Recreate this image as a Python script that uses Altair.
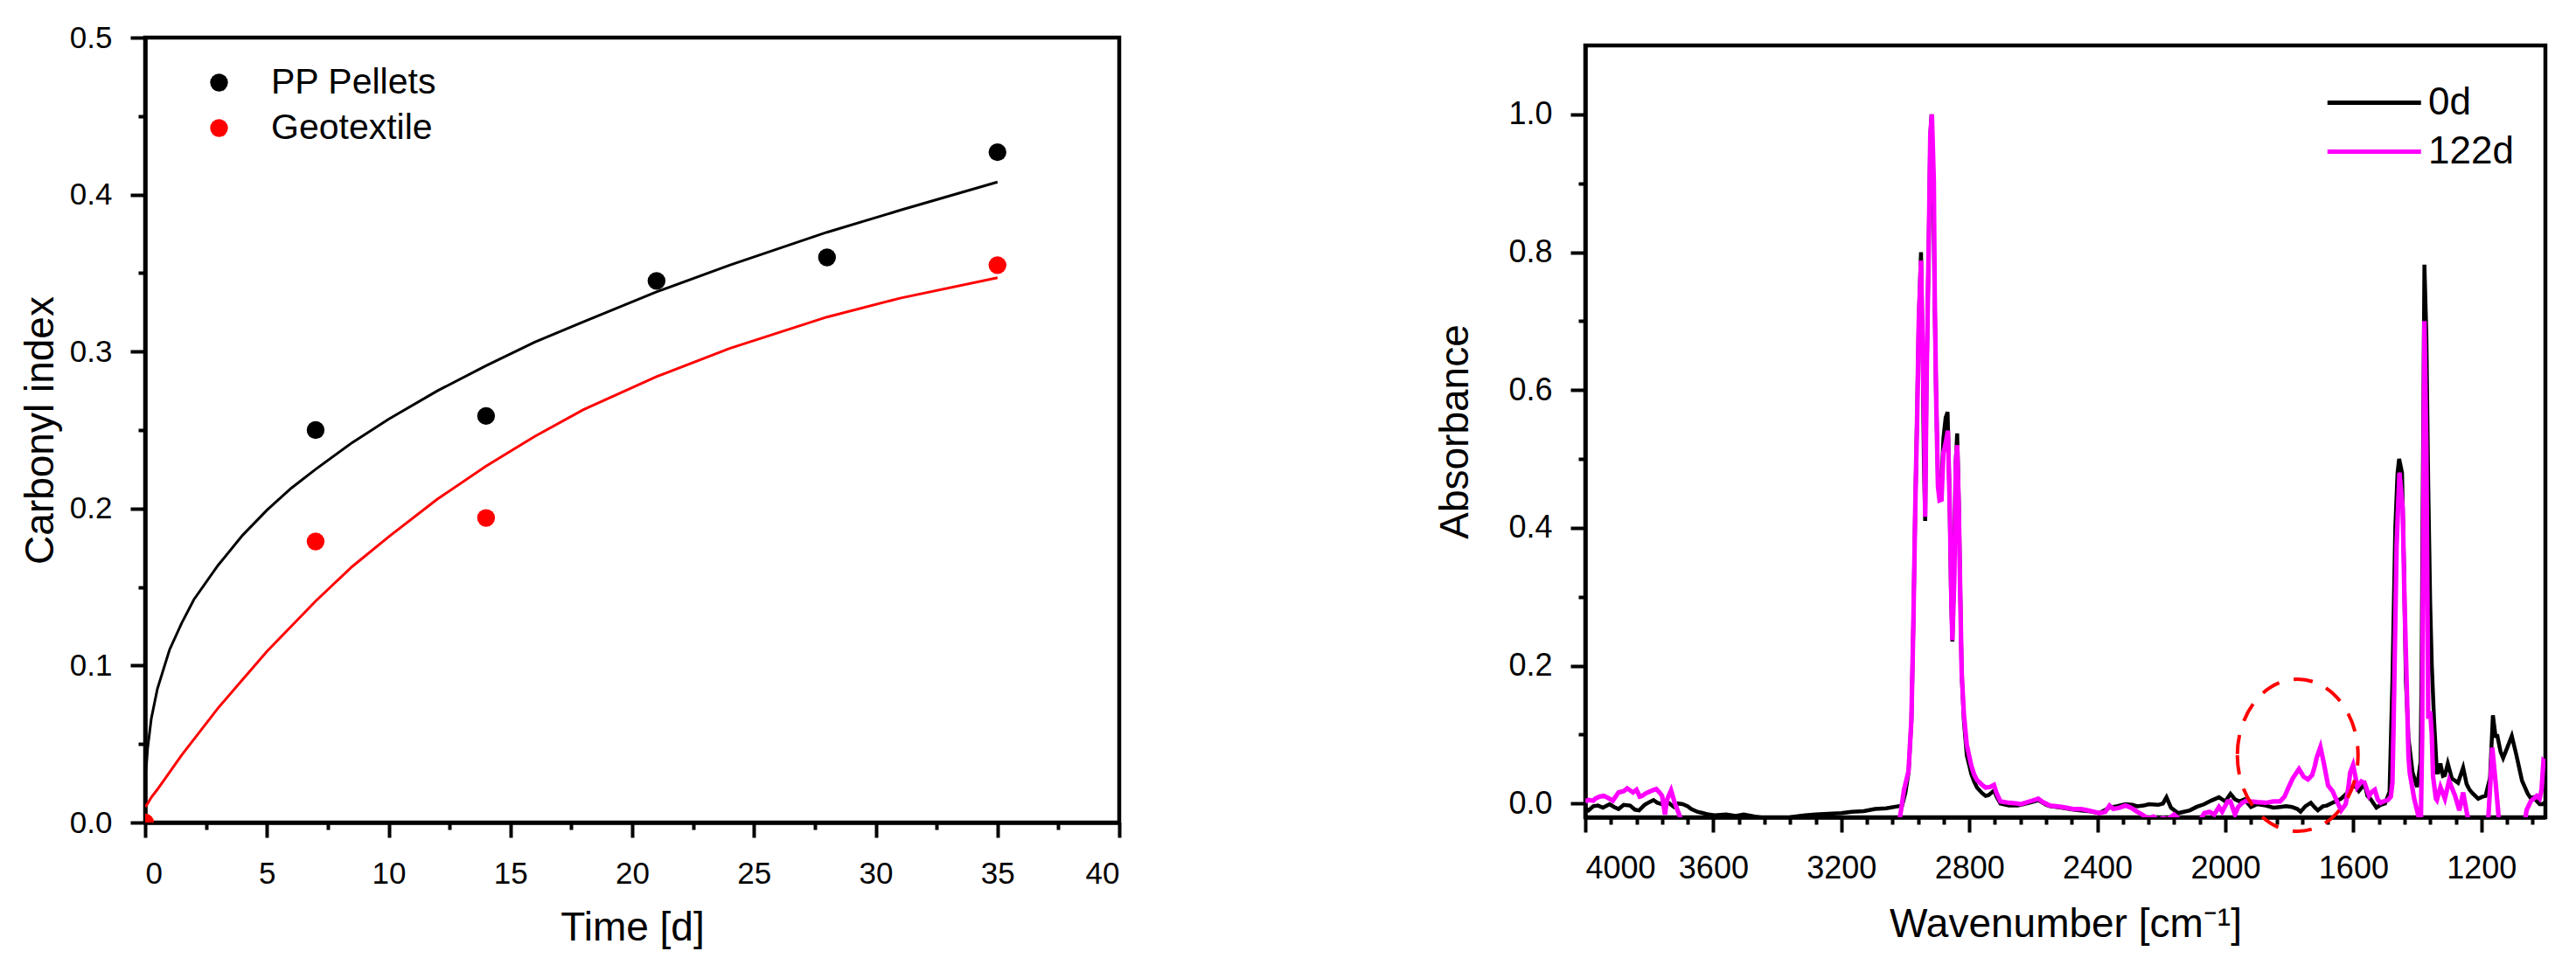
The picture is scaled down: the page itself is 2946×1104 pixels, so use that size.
import altair as alt
import pandas as pd

FONT = "Liberation Sans"

# ---------------- Left panel: carbonyl index ----------------
time_pp = [7, 14, 21, 28, 35]
ci_pp = [0.250, 0.259, 0.345, 0.360, 0.427]
time_geo = [0, 7, 14, 35]
ci_geo = [0.0, 0.179, 0.194, 0.355]

fit_t = [0, 0.05, 0.1, 0.25, 0.5, 1, 1.5, 2, 3, 4, 5, 6, 7, 8.5, 10, 12, 14, 16, 18, 21, 24, 28, 31, 35]
fit_pp = [0.030, 0.036, 0.047, 0.066, 0.085, 0.110, 0.127, 0.142, 0.164, 0.183, 0.199, 0.213,
          0.225, 0.242, 0.257, 0.275, 0.291, 0.306, 0.319, 0.338, 0.355, 0.376, 0.390, 0.408]
fit_geo = [0.010, 0.011, 0.012, 0.016, 0.021, 0.032, 0.043, 0.053, 0.073, 0.091, 0.109, 0.125,
           0.141, 0.163, 0.182, 0.206, 0.227, 0.246, 0.263, 0.284, 0.302, 0.322, 0.334, 0.347]

left_x_ticks = [0, 2.5, 5, 7.5, 10, 12.5, 15, 17.5, 20, 22.5, 25, 27.5, 30, 32.5, 35, 37.5, 40]
left_y_ticks = [0, 0.05, 0.1, 0.15, 0.2, 0.25, 0.3, 0.35, 0.4, 0.45, 0.5]

# ---------------- Right panel: FTIR spectra (wavenumber, absorbance) ----------------
spectrum_0d = [
    (4000, -0.007), (3990, -0.010), (3975, -0.004), (3960, -0.003), (3945, -0.006), (3924, -0.001),
    (3910, -0.005), (3896, -0.008), (3880, -0.002), (3860, -0.003), (3845, -0.009), (3832, -0.010),
    (3815, -0.002), (3800, 0.002), (3787, 0.005), (3775, 0.001), (3760, -0.001), (3745, 0.003),
    (3723, -0.005), (3710, 0.000), (3696, -0.001), (3680, -0.004), (3669, -0.008), (3650, -0.012),
    (3632, -0.014), (3615, -0.016), (3596, -0.017), (3560, -0.016), (3530, -0.018), (3505, -0.016),
    (3470, -0.019), (3441, -0.021), (3400, -0.021), (3360, -0.020), (3330, -0.018), (3313, -0.017),
    (3280, -0.016), (3241, -0.015), (3200, -0.014), (3168, -0.012), (3130, -0.011), (3095, -0.008),
    (3060, -0.007), (3022, -0.004), (3010, -0.003), (3000, 0.015), (2990, 0.045), (2981, 0.120),
    (2975, 0.260), (2969, 0.430), (2963, 0.570), (2958, 0.700), (2951, 0.800), (2946, 0.660),
    (2942, 0.500), (2938, 0.410), (2934, 0.600), (2930, 0.720), (2926, 0.840), (2922, 0.970),
    (2918, 1.000), (2913, 0.920), (2909, 0.750), (2904, 0.600), (2898, 0.470), (2893, 0.445),
    (2887, 0.460), (2881, 0.530), (2874, 0.560), (2868, 0.568), (2862, 0.450), (2857, 0.300),
    (2853, 0.235), (2848, 0.330), (2843, 0.490), (2838, 0.537), (2833, 0.440), (2828, 0.300),
    (2824, 0.190), (2817, 0.120), (2808, 0.070), (2800, 0.055), (2794, 0.043), (2785, 0.032),
    (2776, 0.023), (2760, 0.015), (2749, 0.011), (2740, 0.012), (2730, 0.016), (2723, 0.019),
    (2715, 0.010), (2703, 0.000), (2676, -0.003), (2650, -0.003), (2639, -0.002), (2612, 0.001),
    (2590, 0.004), (2585, 0.005), (2560, -0.002), (2548, -0.004), (2512, -0.006), (2475, -0.009),
    (2430, -0.011), (2394, -0.014), (2362, -0.006), (2340, -0.004), (2312, -0.001), (2290, -0.002),
    (2275, -0.004), (2255, -0.003), (2239, -0.001), (2210, -0.002), (2195, 0.000), (2184, 0.009),
    (2170, -0.006), (2148, -0.014), (2130, -0.012), (2111, -0.010), (2090, -0.005), (2066, -0.001),
    (2045, 0.004), (2020, 0.009), (2000, 0.003), (1984, 0.014), (1970, 0.006), (1956, 0.003),
    (1940, 0.006), (1920, -0.005), (1900, -0.001), (1874, -0.003), (1850, -0.006), (1829, -0.005),
    (1810, -0.004), (1792, -0.005), (1775, -0.008), (1765, -0.012), (1750, -0.004), (1733, 0.001),
    (1720, -0.006), (1711, -0.010), (1695, -0.004), (1683, -0.003), (1670, 0.000), (1656, 0.003),
    (1638, 0.007), (1620, 0.015), (1610, 0.020), (1597, 0.028), (1583, 0.018), (1565, 0.028),
    (1556, 0.011), (1547, 0.007), (1528, -0.006), (1515, -0.002), (1501, 0.000), (1487, 0.017),
    (1478, 0.179), (1469, 0.400), (1462, 0.480), (1457, 0.500), (1448, 0.480), (1442, 0.346),
    (1436, 0.180), (1428, 0.095), (1415, 0.045), (1401, 0.024), (1390, 0.060), (1387, 0.180),
    (1383, 0.460), (1378, 0.782), (1372, 0.680), (1366, 0.460), (1360, 0.290), (1355, 0.201),
    (1348, 0.123), (1339, 0.045), (1335, 0.045), (1328, 0.058), (1320, 0.040), (1314, 0.041),
    (1305, 0.058), (1292, 0.036), (1282, 0.033), (1273, 0.030), (1257, 0.052), (1246, 0.028),
    (1237, 0.020), (1228, 0.015), (1210, 0.007), (1196, 0.010), (1187, 0.011), (1173, 0.037),
    (1164, 0.128), (1156, 0.098), (1150, 0.098), (1140, 0.075), (1132, 0.066), (1120, 0.080),
    (1105, 0.098), (1091, 0.071), (1073, 0.033), (1055, 0.014), (1046, 0.008), (1037, 0.009),
    (1028, 0.004), (1018, -0.001), (1009, -0.001), (1000, 0.002),
]

spectrum_122d = [
    (4000, 0.003), (3990, 0.005), (3975, 0.004), (3969, 0.007), (3955, 0.010), (3942, 0.011),
    (3928, 0.008), (3914, 0.004), (3905, 0.010), (3896, 0.016), (3880, 0.018), (3869, 0.022),
    (3860, 0.019), (3851, 0.016), (3840, 0.020), (3830, 0.010), (3823, 0.011), (3810, 0.015),
    (3796, 0.018), (3785, 0.020), (3778, 0.021), (3768, 0.016), (3760, 0.011), (3751, -0.016),
    (3745, 0.005), (3732, 0.019), (3720, 0.000), (3705, -0.018), (3695, -0.035), (3650, -0.045),
    (3400, -0.045), (3100, -0.045), (3030, -0.040), (3017, -0.021), (3004, 0.020), (2990, 0.047),
    (2981, 0.122), (2975, 0.258), (2969, 0.428), (2963, 0.563), (2958, 0.699), (2951, 0.788),
    (2945, 0.640), (2941, 0.550), (2938, 0.416), (2934, 0.600), (2930, 0.720), (2926, 0.836),
    (2922, 0.970), (2917, 1.000), (2911, 0.903), (2908, 0.733), (2904, 0.597), (2898, 0.460),
    (2893, 0.440), (2887, 0.441), (2881, 0.509), (2874, 0.523), (2867, 0.541), (2861, 0.428),
    (2856, 0.292), (2853, 0.237), (2847, 0.326), (2842, 0.496), (2838, 0.520), (2833, 0.428),
    (2828, 0.292), (2824, 0.190), (2817, 0.129), (2808, 0.085), (2794, 0.055), (2785, 0.042),
    (2776, 0.034), (2760, 0.027), (2749, 0.023), (2735, 0.024), (2723, 0.027), (2715, 0.015),
    (2703, 0.003), (2676, 0.001), (2650, 0.000), (2639, -0.001), (2612, 0.003), (2590, 0.006),
    (2585, 0.007), (2570, 0.002), (2548, -0.003), (2512, -0.005), (2475, -0.008), (2450, -0.008),
    (2430, -0.010), (2410, -0.012), (2394, -0.014), (2375, -0.012), (2362, -0.003), (2350, -0.008),
    (2330, -0.006), (2312, -0.003), (2295, -0.006), (2275, -0.012), (2260, -0.016), (2240, -0.022),
    (2225, -0.019), (2210, -0.024), (2195, -0.021), (2180, -0.023), (2160, -0.016), (2140, -0.025),
    (2110, -0.030), (2080, -0.025), (2066, -0.014), (2050, -0.012), (2035, -0.016), (2020, -0.005),
    (2010, -0.012), (1993, 0.003), (1984, 0.003), (1970, -0.016), (1960, -0.005), (1947, 0.001),
    (1935, 0.004), (1920, 0.003), (1900, 0.002), (1874, 0.001), (1850, 0.003), (1829, 0.003),
    (1815, 0.010), (1802, 0.024), (1790, 0.036), (1783, 0.041), (1770, 0.050), (1762, 0.044),
    (1756, 0.039), (1742, 0.035), (1729, 0.041), (1720, 0.055), (1715, 0.066), (1703, 0.082),
    (1692, 0.058), (1679, 0.026), (1665, 0.018), (1651, 0.003), (1638, -0.010), (1624, -0.001),
    (1615, 0.025), (1610, 0.045), (1601, 0.056), (1594, 0.040), (1588, 0.024), (1575, 0.032),
    (1565, 0.030), (1551, 0.011), (1542, 0.017), (1533, 0.020), (1524, 0.006), (1515, 0.001),
    (1506, 0.003), (1492, 0.005), (1483, 0.010), (1478, 0.030), (1474, 0.123), (1465, 0.374),
    (1456, 0.480), (1446, 0.430), (1440, 0.290), (1433, 0.167), (1428, 0.070), (1424, 0.045),
    (1410, 0.007), (1400, -0.012), (1396, -0.020), (1389, -0.022), (1385, 0.100), (1383, 0.290),
    (1378, 0.700), (1372, 0.514), (1366, 0.123), (1360, 0.134), (1355, 0.100), (1351, 0.039),
    (1342, 0.007), (1339, 0.005), (1328, 0.024), (1314, 0.007), (1301, 0.033), (1282, 0.011),
    (1269, -0.010), (1257, 0.016), (1244, -0.017), (1232, -0.040), (1185, -0.040), (1178, -0.018),
    (1172, 0.030), (1166, 0.081), (1155, 0.028), (1146, -0.020), (1140, -0.040), (1068, -0.040),
    (1059, -0.010), (1046, 0.003), (1027, 0.011), (1018, 0.007), (1012, 0.020), (1006, 0.062),
    (1001, 0.060),
]

right_x_ticks = [4000 - 80 * i for i in range(38)]
right_y_ticks = [0, 0.1, 0.2, 0.3, 0.4, 0.5, 0.6, 0.7, 0.8, 0.9, 1.0]

# dashed ellipse annotation (centre in data units)
ellipse_wn = [1774]
ellipse_abs = [0.070]

# ---------------- Build tables ----------------
pts = pd.DataFrame({
    "t": time_pp + time_geo,
    "ci": ci_pp + ci_geo,
    "Sample": ["PP Pellets"] * len(time_pp) + ["Geotextile"] * len(time_geo),
})
fits = pd.DataFrame({"t": fit_t, "pp": fit_pp, "geo": fit_geo})
rows = [(w, a, "0d") for w, a in spectrum_0d] + [(w, a, "122d") for w, a in spectrum_122d]
spec = pd.DataFrame(rows, columns=["wn", "a", "Time"])
ell = pd.DataFrame({"wn": ellipse_wn, "a": ellipse_abs})


def cond(test, big=17, small=8):
    return {"condition": {"test": test, "value": big}, "value": small}


# ---------------- Left chart ----------------
lx = alt.X("t:Q", scale=alt.Scale(domain=[0, 40], nice=False, zero=False),
           axis=alt.Axis(values=left_x_ticks, title="Time [d]",
                         labelExpr="datum.value % 5 == 0 ? format(datum.value, 'd') : ''",
                         tickSize=cond("datum.value % 5 == 0"),
                         labelFontSize=35, titleFontSize=46, labelPadding=24, titlePadding=22))
ly_axis = alt.Axis(values=left_y_ticks, title="Carbonyl index",
                   labelExpr="round(datum.value*100) % 10 == 0 ? format(datum.value, '.1f') : ''",
                   tickSize=cond("round(datum.value*100) % 10 == 0"),
                   labelFontSize=35, titleFontSize=46, labelPadding=21, titlePadding=9)
lscale = alt.Scale(domain=[0, 0.5], nice=False, zero=False)

pp_line = alt.Chart(fits).mark_line(color="black", strokeWidth=3, clip=True).encode(
    x=lx, y=alt.Y("pp:Q", scale=lscale, axis=ly_axis))
geo_line = alt.Chart(fits).mark_line(color="red", strokeWidth=3, clip=True).encode(
    x=lx, y=alt.Y("geo:Q", scale=lscale, axis=ly_axis))
points = alt.Chart(pts).mark_circle(size=415, opacity=1, clip=True).encode(
    x=lx,
    y=alt.Y("ci:Q", scale=lscale, axis=ly_axis),
    color=alt.Color("Sample:N",
                    scale=alt.Scale(domain=["PP Pellets", "Geotextile"], range=["black", "red"]),
                    legend=alt.Legend(title=None, orient="none", legendX=64, legendY=31,
                                      symbolType="circle", symbolSize=415, symbolOpacity=1,
                                      labelFontSize=41, labelFont=FONT, labelColor="black",
                                      labelLimit=0, labelOffset=39, rowPadding=10, padding=0)),
)
left = alt.layer(pp_line, geo_line, points).properties(width=1114, height=898)

# ---------------- Right chart ----------------
rx = alt.X("wn:Q", scale=alt.Scale(domain=[4000, 1000], nice=False, zero=False),
           axis=alt.Axis(values=right_x_ticks, title="Wavenumber [cm⁻¹]",
                         labelExpr="(4000 - datum.value) % 400 == 0 ? format(datum.value, 'd') : ''",
                         tickSize=cond("(4000 - datum.value) % 400 == 0"),
                         labelFontSize=36, titleFontSize=46, labelPadding=24, titlePadding=24))
ry = alt.Y("a:Q", scale=alt.Scale(domain=[-0.02, 1.1], nice=False, zero=False),
           axis=alt.Axis(values=right_y_ticks, title="Absorbance",
                         labelExpr="round(datum.value*10) % 2 == 0 ? format(datum.value, '.1f') : ''",
                         tickSize=cond("round(datum.value*10) % 2 == 0"),
                         labelFontSize=36, titleFontSize=46, labelPadding=21, titlePadding=36))

# legend line symbol: drawn from -r to 3r so the stroke is long while the entry stays compact
legend_line = "M -1 0 L 3 0"
spectra = alt.Chart(spec).mark_line(clip=True).encode(
    x=rx, y=ry,
    color=alt.Color("Time:N", scale=alt.Scale(domain=["0d", "122d"], range=["black", "#ff00ff"]),
                    legend=alt.Legend(title=None, orient="none", legendX=846, legendY=36,
                                      symbolType=legend_line, symbolSize=2862, symbolStrokeWidth=5,
                                      labelFontSize=44, labelFont=FONT, labelColor="black",
                                      labelLimit=0, labelOffset=59, rowPadding=4, padding=0)),
    strokeWidth=alt.StrokeWidth("Time:N", scale=alt.Scale(domain=["0d", "122d"], range=[4.5, 5.2]),
                                legend=None),
)
ellipse_path = "M -0.793 0 A 0.793 1 0 1 0 0.793 0 A 0.793 1 0 1 0 -0.793 0 Z"
ellipse = alt.Chart(ell).mark_point(shape=ellipse_path, size=30276, filled=False, color="red",
                                    strokeWidth=4, strokeDash=[22, 17], opacity=1).encode(x=rx, y=ry)
right = alt.layer(spectra, ellipse).properties(width=1098, height=883)

# invisible spacer that lowers the right panel a little relative to the left one
spacer = alt.Chart(pd.DataFrame({"v": [0]})).mark_point(opacity=0, size=1).encode(
    x=alt.value(0), y=alt.value(0)
).properties(width=1098, height=1, view=alt.ViewBackground(stroke="transparent"))

right_col = alt.vconcat(spacer, right, spacing=2).resolve_scale(
    color="independent", x="independent", y="independent")

chart = alt.hconcat(left, right_col, spacing=354).resolve_scale(
    color="independent", x="independent", y="independent"
).properties(
    padding={"left": 13, "top": 15, "right": 10, "bottom": 10}
).configure_view(
    stroke="black", strokeWidth=4.5
).configure_axis(
    domainColor="black", domainWidth=4.5, tickColor="black", tickWidth=4,
    labelColor="black", titleColor="black", labelFont=FONT, titleFont=FONT,
    titleFontWeight="normal", grid=False, zindex=1
).configure_legend(labelFont=FONT)

chart.save("out.html", embed_options={"renderer": "svg", "actions": False})
